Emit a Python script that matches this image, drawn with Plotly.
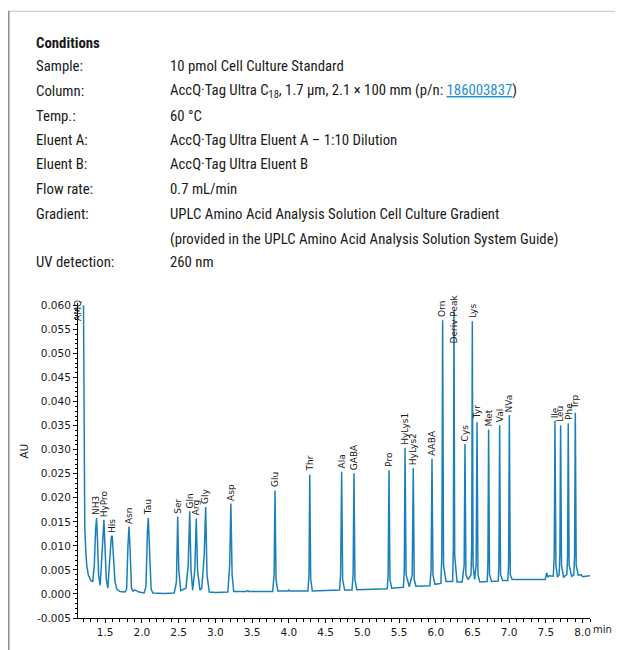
import plotly.graph_objects as go

# chromatogram trace
time_min = [
    1.205, 1.210, 1.222, 1.237, 1.250, 1.270, 1.300, 1.330,
    1.352, 1.370, 1.383, 1.396, 1.410, 1.432, 1.455, 1.473, 1.483, 1.497, 1.515, 1.536,
    1.560, 1.583, 1.596, 1.612, 1.633, 1.660, 1.700, 1.770,
    1.792, 1.810, 1.824, 1.840, 1.858, 1.880, 1.900, 1.925, 1.960, 2.030,
    2.055, 2.075, 2.087, 2.102, 2.125, 2.150, 2.300, 2.440,
    2.470, 2.487, 2.502, 2.528, 2.600, 2.630, 2.651, 2.668, 2.691, 2.720, 2.740, 2.757,
    2.790, 2.815, 2.848, 2.868, 2.886, 2.917, 3.000, 3.170,
    3.195, 3.211, 3.228, 3.250, 3.420, 3.440, 3.460, 3.780,
    3.800, 3.812, 3.826, 3.850, 3.990, 4.000, 4.020, 4.260,
    4.275, 4.285, 4.298, 4.320, 4.690,
    4.705, 4.719, 4.733, 4.760, 4.860, 4.875, 4.887, 4.900, 4.925, 5.100, 5.340,
    5.352, 5.364, 5.377, 5.400, 5.560, 5.572, 5.582, 5.596, 5.640, 5.680, 5.694, 5.707,
    5.730, 5.920, 5.937, 5.949, 5.962, 5.990, 6.070, 6.083, 6.094, 6.106, 6.140,
    6.230, 6.240, 6.248, 6.258, 6.290, 6.360, 6.387, 6.398, 6.411, 6.440,
    6.480, 6.490, 6.498, 6.508, 6.530, 6.550, 6.562, 6.575, 6.600,
    6.700, 6.710, 6.720, 6.732, 6.760, 6.850, 6.860, 6.870, 6.882, 6.910,
    6.980, 6.992, 7.002, 7.015, 7.040, 7.300, 7.490, 7.505, 7.512, 7.525, 7.545,
    7.600, 7.613, 7.623, 7.636, 7.657, 7.680, 7.690, 7.700, 7.712, 7.740,
    7.785, 7.795, 7.804, 7.816, 7.850, 7.880, 7.890, 7.900, 7.912, 7.940,
    7.980, 8.000, 8.040, 8.100,
]
absorbance = [
    0.0600, 0.0300, 0.0140, 0.0085, 0.0058, 0.0040, 0.0029, 0.0025,
    0.0060, 0.0135, 0.0158, 0.0110, 0.0040, 0.0018, 0.0080, 0.0145, 0.0154, 0.0100, 0.0030, 0.0012,
    0.0070, 0.0118, 0.0121, 0.0080, 0.0026, 0.0010, 0.0005, 0.0004,
    0.0010, 0.0100, 0.0140, 0.0090, 0.0012, 0.0006, 0.0008, 0.0007, 0.0004, 0.0002,
    0.0015, 0.0130, 0.0158, 0.0100, 0.0010, 0.0002, 0.0001, 0.0002,
    0.0025, 0.0161, 0.0050, 0.0007, 0.0012, 0.0060, 0.0172, 0.0050, 0.0008, 0.0050, 0.0157, 0.0050,
    0.0008, 0.0012, 0.0080, 0.0181, 0.0040, 0.0004, 0.0003, 0.0004,
    0.0060, 0.0188, 0.0040, 0.0005, 0.0005, 0.0007, 0.0005, 0.0005,
    0.0040, 0.0215, 0.0030, 0.0006, 0.0006, 0.0008, 0.0006, 0.0006,
    0.0040, 0.0248, 0.0030, 0.0006, 0.0008,
    0.0040, 0.0254, 0.0030, 0.0008, 0.0008, 0.0040, 0.0251, 0.0030, 0.0009, 0.0010, 0.0011,
    0.0040, 0.0257, 0.0030, 0.0012, 0.0014, 0.0050, 0.0304, 0.0040, 0.0015, 0.0040, 0.0262, 0.0030,
    0.0016, 0.0017, 0.0050, 0.0281, 0.0040, 0.0020, 0.0022, 0.0080, 0.0569, 0.0060, 0.0026,
    0.0026, 0.0100, 0.0589, 0.0080, 0.0025, 0.0025, 0.0060, 0.0312, 0.0040, 0.0030,
    0.0040, 0.0100, 0.0567, 0.0060, 0.0030, 0.0060, 0.0357, 0.0040, 0.0025,
    0.0026, 0.0060, 0.0342, 0.0040, 0.0026, 0.0027, 0.0060, 0.0351, 0.0040, 0.0028,
    0.0028, 0.0060, 0.0372, 0.0040, 0.0030, 0.0030, 0.0030, 0.0040, 0.0044, 0.0035, 0.0038,
    0.0037, 0.0080, 0.0360, 0.0060, 0.0035, 0.0040, 0.0080, 0.0351, 0.0060, 0.0035,
    0.0040, 0.0080, 0.0355, 0.0060, 0.0037, 0.0040, 0.0080, 0.0377, 0.0060, 0.0039,
    0.0040, 0.0036, 0.0037, 0.0038,
]

# peak labels
peak_names = ["NH3", "HyPro", "His", "Asn", "Tau", "Ser", "Gln", "Arg", "Gly", "Asp",
              "Glu", "Thr", "Ala", "GABA", "Pro", "HyLys1", "HyLys2", "AABA", "Orn",
              "Cys", "Lys", "Tyr", "Met", "Val", "NVa", "Ile", "Leu", "Phe", "Trp"]
peak_times = [1.383, 1.483, 1.596, 1.824, 2.087, 2.487, 2.651, 2.740, 2.868, 3.211,
              3.812, 4.285, 4.719, 4.887, 5.364, 5.582, 5.694, 5.949, 6.094,
              6.398, 6.498, 6.562, 6.720, 6.870, 7.002, 7.623, 7.700, 7.804, 7.900]
peak_heights = [0.0158, 0.0154, 0.0121, 0.0140, 0.0158, 0.0161, 0.0172, 0.0157, 0.0181, 0.0188,
                0.0215, 0.0248, 0.0254, 0.0251, 0.0257, 0.0304, 0.0262, 0.0281, 0.0569,
                0.0312, 0.0567, 0.0357, 0.0342, 0.0351, 0.0372, 0.0360, 0.0351, 0.0355, 0.0377]

y_ticks = [-0.005, 0.000, 0.005, 0.010, 0.015, 0.020, 0.025, 0.030,
           0.035, 0.040, 0.045, 0.050, 0.055, 0.060]
y_tick_text = ["-0.005", "0.000", "0.005", "0.010", "0.015", "0.020", "0.025", "0.030",
               "0.035", "0.040", "0.045", "0.050", "0.055", "0.060"]

cond_labels = ["Sample:", "Column:", "Temp.:", "Eluent A:", "Eluent B:", "Flow rate:",
               "Gradient:", "", "UV detection:"]
cond_values = [
    "10 pmol Cell Culture Standard",
    "AccQ\u00b7Tag Ultra C<sub>18</sub>, 1.7 \u00b5m, 2.1 \u00d7 100 mm (p/n: "
    "<span style='color:#1f8fd6;text-decoration:underline'>186003837</span>)",
    "60 \u00b0C",
    "AccQ\u00b7Tag Ultra Eluent A \u2013 1:10 Dilution",
    "AccQ\u00b7Tag Ultra Eluent B",
    "0.7 mL/min",
    "UPLC Amino Acid Analysis Solution Cell Culture Gradient",
    "(provided in the UPLC Amino Acid Analysis Solution System Guide)",
    "260 nm",
]

# the page adds an 8 px body margin, so the figure is drawn 8 px smaller
# and every page-pixel position is shifted back by OFF
OFF = 8
W, H = 623 - OFF, 650 - OFF
L, T = 78 - OFF, 303 - OFF
R, B = W - (590 - OFF), H - (621 - OFF)
PW, PH = W - L - R, H - T - B


def px(x):
    return (x - OFF - L) / PW


def py(y):
    return (H - B - (y - OFF)) / PH


TXT = "Roboto Condensed, Liberation Sans Narrow, sans-serif"
LAB = "DejaVu Sans, sans-serif"
TICK = "DejaVu Sans, sans-serif"
INK = "#1a1a1a"

fig = go.Figure()
fig.add_trace(go.Scatter(x=time_min, y=absorbance, mode="lines",
                         line=dict(color="#1b80b9", width=1.5), hoverinfo="skip",
                         showlegend=False))

ann = []
for n, t, h in zip(peak_names, peak_times, peak_heights):
    ann.append(dict(x=t, y=h, xref="x", yref="y", text=n, textangle=-90,
                    showarrow=False, xanchor="center", yanchor="bottom", yshift=1,
                    font=dict(family=LAB, size=9, color=INK)))
# labels that sit over the peaks
ann.append(dict(x=px(78.5), y=py(310.5), xref="paper", yref="paper", text="AMQ",
                textangle=-90, showarrow=False, xanchor="center", yanchor="middle",
                font=dict(family=LAB, size=9, color=INK)))
ann.append(dict(x=6.244, y=0.0572, xref="x", yref="y", text="Deriv Peak", textangle=-90,
                showarrow=False, xanchor="center", yanchor="middle",
                font=dict(family=LAB, size=9, color=INK)))

ann.append(dict(x=px(24), y=py(453), xref="paper", yref="paper", text="AU", textangle=-90,
                showarrow=False, xanchor="center", yanchor="middle",
                font=dict(family=TICK, size=10.5, color=INK)))
ann.append(dict(x=px(591), y=py(633), xref="paper", yref="paper", text="min",
                showarrow=False, xanchor="left", yanchor="middle",
                font=dict(family=TICK, size=10, color=INK)))

# conditions block
ann.append(dict(x=px(34), y=py(41), xref="paper", yref="paper", text="<b>Conditions</b>",
                showarrow=False, xanchor="left", yanchor="middle",
                font=dict(family=TXT, size=14.8, color=INK)))
row_y = [64, 89, 114, 138, 163, 188, 213, 238, 262]
for lab, val, yy in zip(cond_labels, cond_values, row_y):
    if lab:
        ann.append(dict(x=px(34), y=py(yy), xref="paper", yref="paper", text=lab,
                        showarrow=False, xanchor="left", yanchor="middle",
                        font=dict(family=TXT, size=14.8, color=INK)))
    ann.append(dict(x=px(168), y=py(yy), xref="paper", yref="paper", text=val,
                    showarrow=False, xanchor="left", yanchor="middle",
                    font=dict(family=TXT, size=14.8, color=INK)))

shapes = [
    dict(type="line", xref="paper", yref="paper", x0=px(8.7), x1=px(620), y0=py(8.5), y1=py(8.5),
         line=dict(color="#c4c4c4", width=1)),
    dict(type="line", xref="paper", yref="paper", x0=px(8.8), x1=px(8.8), y0=py(8), y1=py(700),
         line=dict(color="#8c8c8c", width=1.5)),
    dict(type="line", xref="paper", yref="paper", x0=px(620), x1=px(620), y0=py(8), y1=py(700),
         line=dict(color="#7a7a7a", width=1.5)),
]

fig.update_layout(
    width=W, height=H, autosize=False,
    margin=dict(l=L, r=R, t=T, b=B, pad=0),
    paper_bgcolor="white", plot_bgcolor="white",
    annotations=ann, shapes=shapes, showlegend=False,
    xaxis=dict(range=[1.13, 8.1], tickmode="linear", tick0=1.5, dtick=0.5,
               tickformat=".1f", showgrid=False, zeroline=False, showline=True,
               linecolor="black", linewidth=1, ticks="outside", ticklen=4,
               tickcolor="black", tickfont=dict(family=TICK, size=10.5, color=INK),
               minor=dict(dtick=0.1, ticks="outside", ticklen=3, tickcolor="black")),
    yaxis=dict(range=[-0.005, 0.0605], tickmode="array", tickvals=y_ticks,
               ticktext=y_tick_text, showgrid=False, zeroline=False, showline=True,
               linecolor="black", linewidth=1, ticks="outside", ticklen=4,
               tickcolor="black", tickfont=dict(family=TICK, size=10.5, color=INK),
               minor=dict(dtick=0.001, ticks="outside", ticklen=2, tickcolor="black")),
)

fig.write_html("out.html")
